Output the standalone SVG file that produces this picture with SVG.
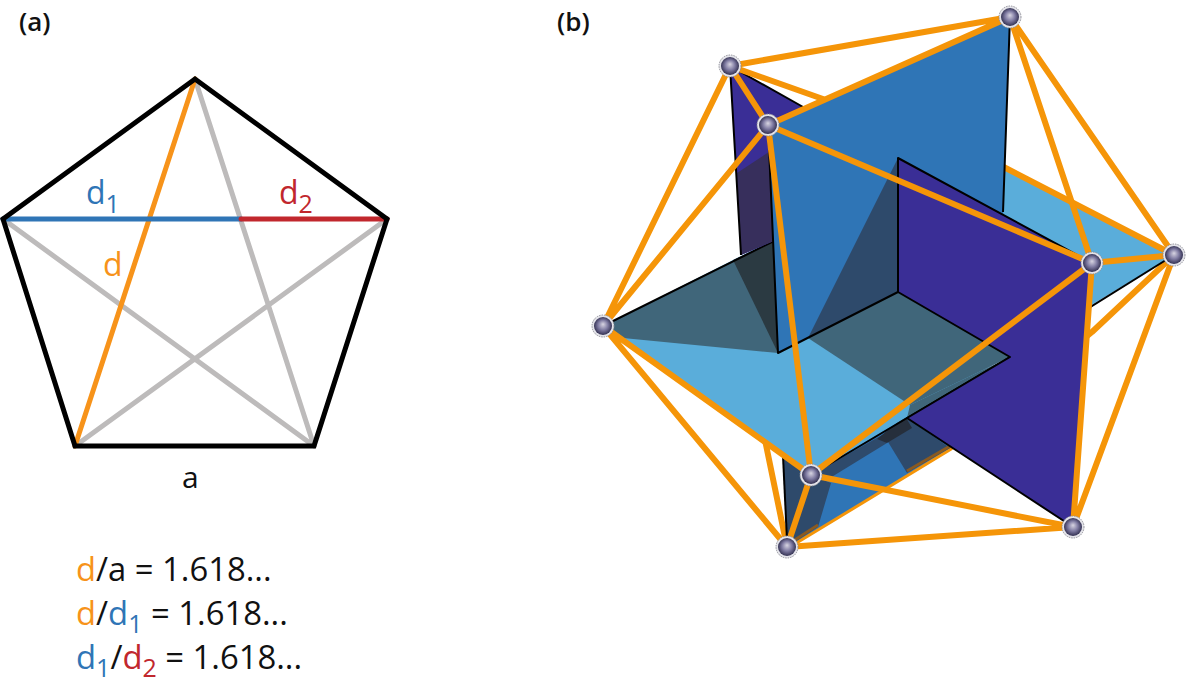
<svg xmlns="http://www.w3.org/2000/svg" width="1188" height="688" viewBox="0 0 1188 688">
<style>
text{font-family:"Open Sans","Noto Sans","Liberation Sans",sans-serif;fill:#111}
.o{fill:#f7931a}.b{fill:#2f75b6}.r{fill:#c1272d}
.pl{stroke:#f59508;stroke-width:6;fill:none;stroke-linecap:round;stroke-linejoin:round}
.ed{stroke:#000;stroke-width:2;fill:none;stroke-linejoin:round}
.pen{fill:none;stroke-width:5;stroke-linecap:round}
.eq{font-size:32.8px}.sub{font-size:25px}.lab{font-size:26px;font-weight:600}.big{font-size:32px}
.ring{fill:#e4e4ea;stroke:#8a8a92;stroke-width:.9;stroke-dasharray:1.5 1}
</style>
<defs>
<radialGradient id="ball" cx="50%" cy="50%" r="55%" fx="50%" fy="40%">
<stop offset="0" stop-color="#d8d5e2"/><stop offset=".5" stop-color="#7f7ba2"/><stop offset="1" stop-color="#262444"/>
</radialGradient>
<g id="sphere"><circle r="11" class="ring"/><circle r="9" fill="url(#ball)"/></g>
</defs>

<text x="19" y="31" class="lab">(a)</text>
<text x="557" y="31" class="lab">(b)</text>

<g id="pentagon">
<g class="pen" stroke="#bdbbbb">
<path d="M195 79L314 446M3 219L314 446M75 446L387 219"/>
</g>
<path class="pen" stroke="#f7931a" d="M195 79L75 446"/>
<path class="pen" stroke="#2f75b6" d="M3 219H241"/>
<path class="pen" stroke="#c1272d" d="M241 219H387"/>
<path class="pen" stroke="#000" stroke-linejoin="miter" d="M3 219L195 79L387 219L314 446H75Z"/>
</g>
<text x="86" y="204" class="big b">d<tspan class="sub" dy="9">1</tspan></text>
<text x="279" y="204" class="big r">d<tspan class="sub" dy="9">2</tspan></text>
<text x="103" y="276" class="big o">d</text>
<text x="182" y="488" style="font-size:30px">a</text>

<text x="76" y="581" class="eq"><tspan class="o">d</tspan>/a = 1.618...</text>
<text x="76" y="625" class="eq"><tspan class="o">d</tspan>/<tspan class="b">d</tspan><tspan class="sub b" dy="8">1</tspan><tspan dy="-8"> = 1.618...</tspan></text>
<text x="76" y="669" class="eq"><tspan class="b">d</tspan><tspan class="sub b" dy="8">1</tspan><tspan dy="-8">/</tspan><tspan class="r">d</tspan><tspan class="sub r" dy="8">2</tspan><tspan dy="-8"> = 1.618...</tspan></text>

<g id="connectors-back">
<path class="pl" d="M765 440L787 547M787 547L950 448L1092 332L1174 255"/>
</g>

<g id="planes">
<path fill="#2f75b6" d="M787 547L783 454L960 340L950 448Z"/>
<path fill="#2e4a6b" d="M783 456L811 475L831 483L818 527L787 547Z"/>
<path fill="#2e4a6b" d="M811 475L882 435L887 443L830 478Z"/>
<path fill="#2e4a6b" d="M885 437L907 473L950 448L907 418Z"/>
<path fill="#262f3c" d="M877 439L887 443L912 428L905 416Z"/>
<path class="ed" d="M783 456L787 540"/>
<path d="M818 525L790 543" stroke="#8a5a20" stroke-width="3"/>
<path d="M907 471L950 446" stroke="#8a5a20" stroke-width="3"/>
<path fill="#5aadda" d="M603 326L811 475L1174 255L960 145Z"/>
<path fill="#40667a" d="M603 326L776 240L778 353L623 338Z"/>
<path fill="#2b3a42" d="M733 260L776 240L778 353Z"/>
<path fill="#40667a" d="M808 338L898 292L1010 357L910 405Z"/>
<path fill="#40667a" d="M910 405L1010 357L907 418Z"/>
<path class="ed" d="M603 326L776 240M811 475L1010 357L1174 255"/>
<path fill="#3a2e96" d="M730 66L812 112L776 240L741 255Z"/>
<path fill="#372f5c" d="M737 173L772 150L776 240L741 255Z"/>
<path class="ed" d="M730 66L741 255M730 66L812 112"/>
</g>
<path class="pl" d="M730 66L823 99M996 163L1174 255"/>
<g id="planes-front">
<path fill="#2f75b6" d="M768 125L1010 17L1003 212L1020 300L898 292L778 353Z"/>
<path fill="#2e4a6b" d="M897 160L898 292L808 338L832 290Z"/>
<path class="ed" d="M768 125L778 353L898 292M1010 17L1003 212"/>
<path fill="#3a2e96" d="M898 158L1092 263L1073 527L907 418L1010 357L898 292Z"/>
<path class="ed" d="M1092 263L898 158V292L1010 357L907 418L1073 527"/>
</g>

<g id="connectors">
<path class="pl" d="M730 66L768 125M730 66L1010 17M730 66L603 326M768 125L1010 17M768 125L1092 263M768 125L603 326M768 125L811 475M1010 17L1092 263M1010 17L1174 255M1092 263L1174 255M1092 263L811 475M1092 263L1073 527M1174 255L1073 527M603 326L811 475M603 326L787 547M811 475L787 547M811 475L1073 527M787 547L1073 527"/>
</g>

<g id="atom-a"><use href="#sphere" x="730" y="66"/></g>
<g id="atom-b"><use href="#sphere" x="768" y="125"/></g>
<g id="atom-c"><use href="#sphere" x="1010" y="17"/></g>
<g id="atom-d"><use href="#sphere" x="1092" y="263"/></g>
<g id="atom-e"><use href="#sphere" x="1174" y="255"/></g>
<g id="atom-f"><use href="#sphere" x="603" y="326"/></g>
<g id="atom-g"><use href="#sphere" x="811" y="475"/></g>
<g id="atom-h"><use href="#sphere" x="787" y="547"/></g>
<g id="atom-i"><use href="#sphere" x="1073" y="527"/></g>
</svg>
